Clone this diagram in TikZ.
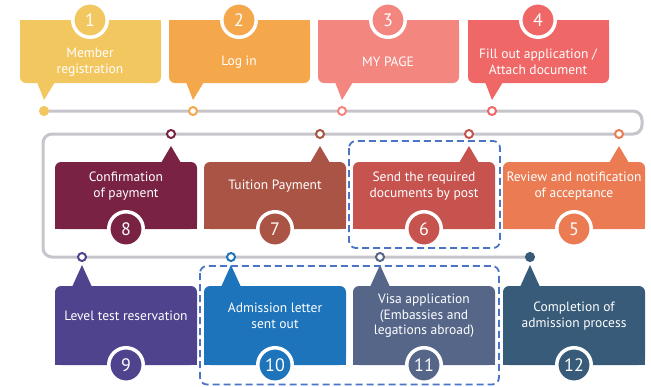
\documentclass[tikz,border=0pt]{standalone}
\usepackage{fontspec}
\setmainfont{PT Sans}
\usetikzlibrary{calc}

\definecolor{stepA}{HTML}{F3C760}
\definecolor{stepB}{HTML}{F5A74B}
\definecolor{stepC}{HTML}{F3867F}
\definecolor{stepD}{HTML}{EF6766}
\definecolor{stepE}{HTML}{EA7B53}
\definecolor{stepF}{HTML}{C7534F}
\definecolor{stepG}{HTML}{AA5445}
\definecolor{stepH}{HTML}{7A2244}
\definecolor{stepI}{HTML}{4F438D}
\definecolor{stepJ}{HTML}{1E74BB}
\definecolor{stepK}{HTML}{556689}
\definecolor{stepL}{HTML}{375B78}
\definecolor{trackgray}{HTML}{C5C5CB}
\definecolor{groupblue}{HTML}{4B74C5}

\tikzset{
  steptext/.style={text=white, align=center, inner sep=0pt, font=\fontsize{13.5}{15.5}\selectfont},
  stepnum/.style={circle, draw=white, line width=3.5pt, minimum size=34.5pt, inner sep=0pt, text=white, font=\fontsize{18}{18}\selectfont},
  stepdot/.style={circle, line width=2pt, minimum size=8pt, inner sep=0pt},
  track/.style={draw=trackgray, line width=3pt, rounded corners=9pt},
  group/.style={draw=groupblue, line width=1.8pt, rounded corners=7pt, dash pattern=on 7pt off 4pt},
}

\begin{document}
\begin{tikzpicture}[x=1pt, y=-1pt]
\useasboundingbox (0,0) rectangle (651,386);
\coordinate (tr1) at (642,111);
\coordinate (tr2) at (642,134);
\coordinate (tr3) at (43,134);
\coordinate (tr4) at (43,257);
\draw[track] (44,111) -- (tr1) -- (tr2) -- (tr3) -- (tr4) -- (530,257);

\foreach \i/\x/\c/\df/\txt in {1/20/stepA/stepA/{Member\\registration}, 2/169/stepB/white/{Log in},
  3/318/stepC/white/{MY PAGE}, 4/468/stepD/white/{Fill out application /\\Attach document}}{
  \fill[\c, rounded corners=6pt] (\x,20) rectangle ++(141,63);
  \fill[\c] (\x,20) rectangle ++(141,30);
  \fill[\c] (\x+17,82) -- ++(18,0) -- (\x+24,100) -- cycle;
  \node[stepdot, draw=\c, fill=\df] (d\i) at (\x+24,111) {};
  \node[steptext] (t\i) at (\x+70,62) {\txt};
  \node[stepnum, fill=\c] (n\i) at (\x+70,20) {\i};
}

\foreach \i/\x/\c/\txt in {5/503/stepE/{Review and notification\\of acceptance}, 6/353/stepF/{Send the required\\documents by post},
  7/204/stepG/{Tuition Payment}, 8/55/stepH/{Confirmation\\of payment}}{
  \fill[\c, rounded corners=6pt] (\x,162) rectangle ++(142,67);
  \fill[\c] (\x,200) rectangle ++(142,29);
  \fill[\c] (\x+106,163) -- ++(20,0) -- (\x+116,146) -- cycle;
  \node[stepdot, draw=\c, fill=white] (d\i) at (\x+116,134) {};
  \node[steptext] (t\i) at (\x+71,186) {\txt};
  \node[stepnum, fill=\c] (n\i) at (\x+71,229) {\i};
}

\foreach \i/\x/\c/\df/\txt in {9/55/stepI/white/{Level test reservation}, 10/204/stepJ/white/{Admission letter\\sent out},
  11/353/stepK/white/{Visa application\\(Embassies and\\legations abroad)}, 12/503/stepL/stepL/{Completion of\\admission process}}{
  \fill[\c, rounded corners=6pt] (\x,286) rectangle ++(142,79);
  \fill[\c] (\x,320) rectangle ++(142,45);
  \fill[\c] (\x+17,287) -- ++(20,0) -- (\x+27,265) -- cycle;
  \node[stepdot, draw=\c, fill=\df] (d\i) at (\x+27,257) {};
  \node[steptext] (t\i) at (\x+71,316) {\txt};
  \node[stepnum, fill=\c] (n\i) at (\x+71,365) {\i};
}

\draw[group] (349,141) rectangle (500,248);
\draw[group] (200,266) rectangle (499,384.5);
\end{tikzpicture}
\end{document}
